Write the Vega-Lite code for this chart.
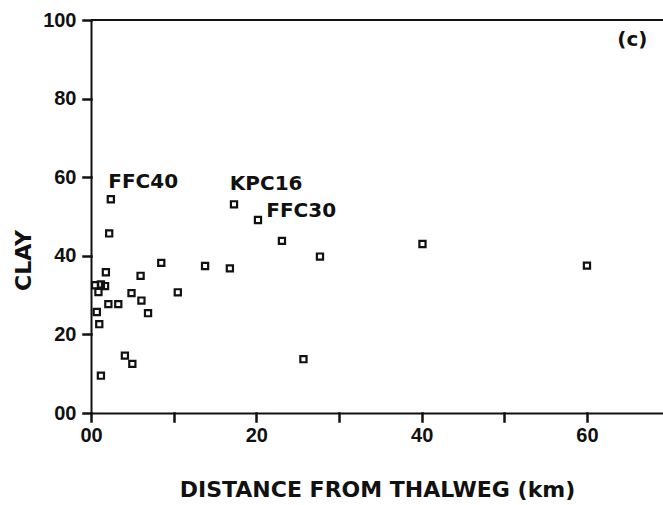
{
  "$schema": "https://vega.github.io/schema/vega-lite/v6.json",
  "autosize": {"type": "none"},
  "padding": {"left": 91, "top": 20, "right": 0, "bottom": 92},
  "width": 572,
  "height": 393,
  "background": "white",
  "config": {
    "view": {"stroke": null},
    "axis": {
      "grid": false,
      "domainColor": "#111",
      "domainWidth": 2,
      "ticks": true,
      "tickColor": "#111",
      "tickWidth": 2.5,
      "tickSize": 8,
      "tickOpacity": 1,
      "tickCap": "square",
      "labelFlush": false,
      "labelFont": "Liberation Sans",
      "labelFontWeight": "bold",
      "labelFontSize": 20,
      "labelColor": "#111",
      "titleFont": "DejaVu Sans",
      "titleFontWeight": "bold",
      "titleFontSize": 22,
      "titleColor": "#111"
    }
  },
  "layer": [
    {
      "data": {"values": [
        {"d": 2.4, "clay": 54.4},
        {"d": 2.2, "clay": 45.7},
        {"d": 1.8, "clay": 35.8},
        {"d": 0.5, "clay": 32.5},
        {"d": 1.2, "clay": 32.7},
        {"d": 1.7, "clay": 32.3},
        {"d": 0.9, "clay": 30.8},
        {"d": 2.1, "clay": 27.7},
        {"d": 3.3, "clay": 27.7},
        {"d": 0.7, "clay": 25.7},
        {"d": 1.0, "clay": 22.6},
        {"d": 1.2, "clay": 9.5},
        {"d": 4.1, "clay": 14.6},
        {"d": 5.0, "clay": 12.5},
        {"d": 4.9, "clay": 30.5},
        {"d": 6.0, "clay": 34.9},
        {"d": 6.1, "clay": 28.6},
        {"d": 6.9, "clay": 25.4},
        {"d": 8.5, "clay": 38.2},
        {"d": 10.5, "clay": 30.7},
        {"d": 13.8, "clay": 37.4},
        {"d": 16.8, "clay": 36.8},
        {"d": 17.3, "clay": 53.1},
        {"d": 20.2, "clay": 49.1},
        {"d": 23.1, "clay": 43.8},
        {"d": 25.7, "clay": 13.7},
        {"d": 27.7, "clay": 39.8},
        {"d": 40.1, "clay": 43.0},
        {"d": 60.0, "clay": 37.5}
      ]},
      "mark": {"type": "point", "shape": "square", "filled": false, "size": 38, "strokeWidth": 2.2, "color": "#111", "opacity": 1},
      "encoding": {
        "x": {
          "field": "d", "type": "quantitative",
          "scale": {"domain": [0, 69.2], "nice": false, "zero": false},
          "axis": {
            "title": "DISTANCE FROM THALWEG (km)",
            "values": [0, 10, 20, 30, 40, 50, 60],
            "labelExpr": "datum.value % 20 == 0 ? (datum.value == 0 ? '00' : datum.label) : ''",
            "labelPadding": 4,
            "titleX": 286,
            "titleY": 76,
            "titleBaseline": "middle",
            "titleAlign": "center"
          }
        },
        "y": {
          "field": "clay", "type": "quantitative",
          "scale": {"domain": [0, 100], "nice": false},
          "axis": {
            "title": "CLAY",
            "values": [0, 10, 20, 30, 40, 50, 60, 70, 80, 90, 100],
            "labelExpr": "datum.value % 20 == 0 ? (datum.value == 0 ? '00' : datum.label) : ''",
            "labelPadding": 7,
            "titleAngle": 270,
            "titleX": -68,
            "titleY": 240,
            "titleAlign": "center",
            "titleBaseline": "middle"
          }
        }
      }
    },
    {
      "data": {"values": [
        {"label": "FFC40", "d": 2.09, "clay": 58.8},
        {"label": "KPC16", "d": 16.8, "clay": 58.3},
        {"label": "FFC30", "d": 21.2, "clay": 51.4}
      ]},
      "mark": {"type": "text", "font": "DejaVu Sans", "fontWeight": "bold", "fontSize": 20, "color": "#111", "align": "left", "baseline": "middle"},
      "encoding": {
        "x": {"field": "d", "type": "quantitative"},
        "y": {"field": "clay", "type": "quantitative"},
        "text": {"field": "label"}
      }
    },
    {
      "data": {"values": [
        {"label": "(c)", "d": 65.5, "clay": 94.9}
      ]},
      "mark": {"type": "text", "font": "DejaVu Sans", "fontWeight": "bold", "fontSize": 20, "color": "#111", "align": "center", "baseline": "middle"},
      "encoding": {
        "x": {"field": "d", "type": "quantitative"},
        "y": {"field": "clay", "type": "quantitative"},
        "text": {"field": "label"}
      }
    },
    {
      "data": {"values": [{"top": 100}]},
      "mark": {"type": "rule", "color": "#111", "strokeWidth": 2},
      "encoding": {"y": {"field": "top", "type": "quantitative"}}
    }
  ]
}
